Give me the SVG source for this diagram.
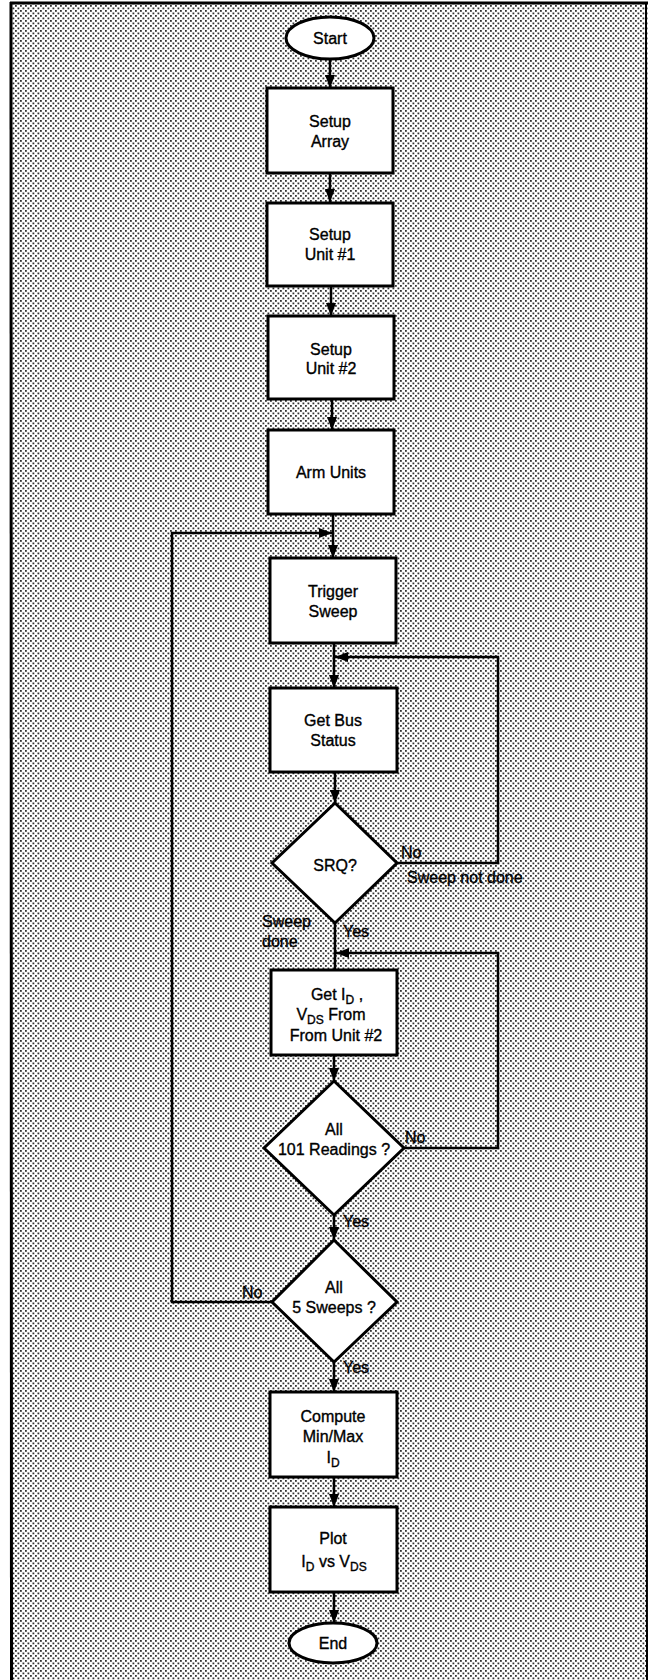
<svg xmlns="http://www.w3.org/2000/svg" width="648" height="1680" viewBox="0 0 648 1680">
<style>
.box{fill:#fff;stroke:#000;stroke-width:3}
.ln{fill:none;stroke:#000;stroke-width:2.5}
.t{font-family:"Liberation Sans",Arial,Helvetica,sans-serif;font-size:16px;fill:#000;stroke:#000;stroke-width:0.35}
.c{text-anchor:middle}
.sub{font-size:12px}
</style>
<defs>
<pattern id="dots" width="5" height="5" patternUnits="userSpaceOnUse">
<rect width="5" height="5" fill="#fff"/>
<rect x="0" y="0" width="1.8" height="1.8" fill="#333"/>
<rect x="2.5" y="2.5" width="1.8" height="1.8" fill="#333"/>
</pattern>
<marker id="ah" viewBox="0 0 13 10" refX="13" refY="5" markerWidth="13" markerHeight="10" markerUnits="userSpaceOnUse" orient="auto">
<path d="M0,0 L13,5 L0,10 z" fill="#000"/>
</marker>
</defs>
<rect x="0" y="0" width="648" height="1680" fill="#fff"/>
<rect x="11" y="3" width="637" height="1677" fill="url(#dots)"/>
<g id="frame" fill="none" stroke="#000">
<line x1="11" y1="2" x2="11.5" y2="1680" stroke-width="3"/>
<line x1="10" y1="3" x2="648" y2="3" stroke-width="3"/>
<line x1="646" y1="2" x2="647" y2="1680" stroke-width="2"/>
</g>
<g id="connectors">
<line class="ln" x1="330" y1="59" x2="330" y2="88" marker-end="url(#ah)"/>
<line class="ln" x1="330" y1="173" x2="330" y2="202" marker-end="url(#ah)"/>
<line class="ln" x1="331" y1="286" x2="331" y2="316" marker-end="url(#ah)"/>
<line class="ln" x1="332" y1="399" x2="332" y2="430" marker-end="url(#ah)"/>
<line class="ln" x1="333" y1="514" x2="333" y2="558" marker-end="url(#ah)"/>
<line class="ln" x1="334" y1="643" x2="334" y2="688" marker-end="url(#ah)"/>
<line class="ln" x1="335" y1="772" x2="335" y2="803" marker-end="url(#ah)"/>
<line class="ln" x1="335" y1="923" x2="335" y2="970"/>
<line class="ln" x1="334" y1="1055" x2="334" y2="1081" marker-end="url(#ah)"/>
<line class="ln" x1="334" y1="1215" x2="334" y2="1240" marker-end="url(#ah)"/>
<line class="ln" x1="334" y1="1362" x2="334" y2="1392" marker-end="url(#ah)"/>
<line class="ln" x1="334" y1="1477" x2="334" y2="1507" marker-end="url(#ah)"/>
<line class="ln" x1="334" y1="1592" x2="334" y2="1623" marker-end="url(#ah)"/>
<polyline class="ln" points="397,863 498,863 498,657 335,657" marker-end="url(#ah)"/>
<polyline class="ln" points="404,1148 498,1148 498,953 336,953" marker-end="url(#ah)"/>
<polyline class="ln" points="272,1302 172,1302 172,533 332,533" marker-end="url(#ah)"/>
</g>
<g id="start"><ellipse class="box" cx="330" cy="38" rx="44" ry="21"/><text class="t c" x="330" y="44">Start</text></g>
<g id="setup-array"><rect class="box" x="267" y="88" width="126" height="85"/><text class="t c" x="330" y="127">Setup</text><text class="t c" x="330" y="147">Array</text></g>
<g id="setup-unit1"><rect class="box" x="267" y="203" width="126" height="83"/><text class="t c" x="330" y="240">Setup</text><text class="t c" x="330" y="260">Unit #1</text></g>
<g id="setup-unit2"><rect class="box" x="268" y="316" width="126" height="83"/><text class="t c" x="331" y="355">Setup</text><text class="t c" x="331" y="374">Unit #2</text></g>
<g id="arm-units"><rect class="box" x="268" y="430" width="126" height="84"/><text class="t c" x="331" y="478">Arm Units</text></g>
<g id="trigger-sweep"><rect class="box" x="270" y="558" width="126" height="85"/><text class="t c" x="333" y="597">Trigger</text><text class="t c" x="333" y="617">Sweep</text></g>
<g id="get-bus-status"><rect class="box" x="270" y="688" width="127" height="84"/><text class="t c" x="333" y="726">Get Bus</text><text class="t c" x="333" y="746">Status</text></g>
<g id="srq"><polygon class="box" points="335,803 397,863 335,923 272,863"/><text class="t c" x="335" y="871">SRQ?</text></g>
<g id="get-id"><rect class="box" x="271" y="970" width="126" height="85"/>
<text class="t c" x="337" y="1000">Get I<tspan class="sub" dy="4">D</tspan><tspan dy="-4"> ,</tspan></text>
<text class="t c" x="331" y="1020">V<tspan class="sub" dy="4">DS</tspan><tspan dy="-4"> From</tspan></text>
<text class="t c" x="336" y="1041">From Unit #2</text></g>
<g id="all-readings"><polygon class="box" points="334,1081 404,1148 334,1215 264,1148"/><text class="t c" x="334" y="1135">All</text><text class="t c" x="334" y="1155">101 Readings ?</text></g>
<g id="all-sweeps"><polygon class="box" points="334,1240 397,1302 334,1362 272,1302"/><text class="t c" x="334" y="1293">All</text><text class="t c" x="334" y="1313">5 Sweeps ?</text></g>
<g id="compute"><rect class="box" x="270" y="1392" width="127" height="85"/><text class="t c" x="333" y="1422">Compute</text><text class="t c" x="333" y="1442">Min/Max</text><text class="t c" x="333" y="1463">I<tspan class="sub" dy="4">D</tspan></text></g>
<g id="plot"><rect class="box" x="270" y="1507" width="127" height="85"/><text class="t c" x="333" y="1544">Plot</text><text class="t c" x="334" y="1567">I<tspan class="sub" dy="4">D</tspan><tspan dy="-4"> vs V</tspan><tspan class="sub" dy="4">DS</tspan></text></g>
<g id="end"><ellipse class="box" cx="333" cy="1643" rx="44" ry="20"/><text class="t c" x="333" y="1649">End</text></g>
<g id="labels">
<text class="t" x="401" y="858">No</text>
<text class="t" x="407" y="883">Sweep not done</text>
<text class="t" x="262" y="927">Sweep</text>
<text class="t" x="262" y="947">done</text>
<text class="t" x="343" y="937">Yes</text>
<text class="t" x="405" y="1143">No</text>
<text class="t" x="343" y="1227">Yes</text>
<text class="t" x="242" y="1298">No</text>
<text class="t" x="343" y="1373">Yes</text>
</g>
</svg>
